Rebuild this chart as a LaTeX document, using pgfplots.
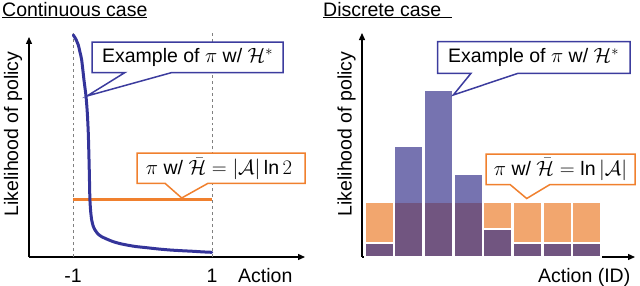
\documentclass[border=0pt]{standalone}
\usepackage{pgfplots}
\pgfplotsset{compat=1.18}
\usetikzlibrary{arrows.meta}
\usepackage{fontspec}
\setmainfont{Liberation Sans}
\definecolor{navyline}{HTML}{34349A}
\definecolor{boxblue}{HTML}{3C3C9E}
\definecolor{orangeline}{HTML}{F0802E}
\definecolor{orangebar}{HTML}{F2A66E}
\definecolor{purplebar}{HTML}{332E89}
\definecolor{dashgray}{HTML}{808080}
\begin{document}
\fontsize{19.5bp}{23bp}\selectfont
\begin{tikzpicture}[x=1bp,y=1bp]
\pgfplotsset{
  common/.style={
    scale only axis, clip=false,
    axis lines=left,
    axis line style={line width=1.3bp,-{Triangle[length=7bp,width=6bp]}},
    major tick length=0pt,
    ytick=\empty,
    xticklabel style={anchor=base,yshift=-25bp},
  }
}
% ---------------- Continuous case ----------------
\begin{axis}[common,
  at={(29bp,28bp)}, anchor=south west,
  width=276bp, height=220bp,
  xmin=-1.633, xmax=2.338, ymin=0, ymax=220,
  xtick={-1,1}, xticklabels={-1,1},
]
\addplot[dashgray, dashed, line width=0.8bp] coordinates {(-1,0) (-1,224)};
\addplot[dashgray, dashed, line width=0.8bp] coordinates {(1,0) (1,224)};
\addplot[orangeline, line width=3bp] coordinates {(-1,58) (1,58)};
\addplot[navyline, line width=3bp, smooth, tension=0.4, line cap=round] coordinates {
(-0.996,222) (-0.96,218) (-0.924,212) (-0.9,205) (-0.875,197) (-0.842,177)
(-0.813,161) (-0.794,144) (-0.78,124) (-0.772,104) (-0.765,84) (-0.757,58)
(-0.745,45) (-0.731,37) (-0.71,31) (-0.683,27) (-0.64,23) (-0.587,20.3)
(-0.5,17.5) (-0.42,15.3) (-0.33,13.5) (-0.227,12) (-0.1,10.5) (0.06,9.3)
(0.23,8) (0.396,7) (0.56,6.3) (0.731,5.7) (0.87,5.1) (0.996,4.7)};
\end{axis}
% ---------------- Discrete case ----------------
\begin{axis}[common,
  at={(362bp,28bp)}, anchor=south west,
  width=273bp, height=224bp,
  xmin=0.42, xmax=9.63, ymin=0, ymax=224,
  xtick=\empty,
]
\addplot[ybar, bar shift=0pt, bar width=28.6bp, fill=orangebar, draw=white, line width=1.5bp]
 coordinates {(1,55) (2,55) (3,55) (4,55) (5,55) (6,55) (7,55) (8,55)};
\addplot[ybar, bar shift=0pt, bar width=28.6bp, fill=purplebar, fill opacity=0.67, draw=white, line width=1.5bp]
 coordinates {(1,14) (2,111) (3,167) (4,83) (5,28) (6,14) (7,14) (8,14)};
\end{axis}
% ---------------- titles and labels ----------------
\node[anchor=north west, inner sep=0] at (2,282.5) {Continuous case};
\draw[line width=1bp] (2,267.5) -- (147,267.5);
\node[anchor=north west, inner sep=0] at (323,282.5) {Discrete case};
\draw[line width=1bp] (323,267.5) -- (452,267.5);
\node[rotate=90, inner sep=0] at (13,151) {Likelihood of policy};
\node[rotate=90, inner sep=0] at (346.5,151) {Likelihood of policy};
\node[anchor=base west, inner sep=0] at (238,3) {Action};
\node[anchor=base west, inner sep=0] at (538,3) {Action (ID)};
% ---------------- callouts ----------------
\draw[boxblue, fill=white, line width=1.5bp, line join=miter]
  (92,243) -- (283,243) -- (283,212.5) -- (172,212.5) -- (87,189) -- (125,212.5) -- (92,212.5) -- cycle;
\node at (187.5,227.5) {Example of $\pi$ w/ $\mathcal{H}^{*}$};
\draw[orangeline, fill=white, line width=1.5bp, line join=miter]
  (137,132) -- (305,132) -- (305,101.7) -- (208,101.7) -- (181.7,87) -- (165,101.7) -- (137,101.7) -- cycle;
\node at (219,116.5) {$\pi$ w/ $\bar{\mathcal{H}} = |\mathcal{A}|\ln 2$};
\draw[boxblue, fill=white, line width=1.5bp, line join=miter]
  (437.5,243.3) -- (630,243.3) -- (630,211.7) -- (518,211.7) -- (453.3,190) -- (471,211.7) -- (437.5,211.7) -- cycle;
\node at (533.5,227.5) {Example of $\pi$ w/ $\mathcal{H}^{*}$};
\draw[orangeline, fill=white, line width=1.5bp, line join=miter]
  (486,131) -- (635,131) -- (635,100.5) -- (550,100.5) -- (526.7,86.5) -- (510,100.5) -- (486,100.5) -- cycle;
\node at (560.5,115.8) {$\pi$ w/ $\bar{\mathcal{H}} = \ln|\mathcal{A}|$};
\pgfresetboundingbox
\useasboundingbox (0,0) rectangle (640,285);
\end{tikzpicture}
\end{document}
